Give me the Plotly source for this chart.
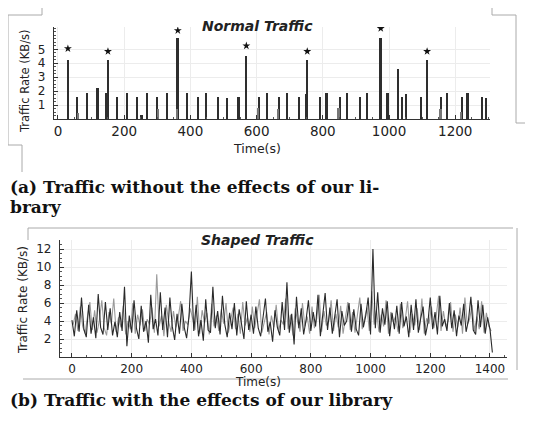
import plotly.graph_objects as go

# browser page has an 8px body margin: the figure is shifted by 8px, so size it to fit
OFF = 8
W, H = 533 - OFF, 421 - OFF

# ---------------- data: Normal Traffic (spikes) ----------------
normal_time = [30, 59, 89, 120, 147, 151, 178, 209, 239, 253, 270, 301, 331, 362, 390, 423,
               449, 485, 512, 546, 569, 607, 633, 669, 692, 730, 749, 753, 791, 812, 852,
               873, 914, 934, 975, 996, 1029, 1039, 1052, 1098, 1115, 1159, 1176, 1220,
               1238, 1282, 1293]
normal_rate = [4.2, 1.6, 1.9, 2.2, 1.9, 4.2, 1.6, 1.9, 1.6, 0.3, 1.9, 1.6, 1.9, 5.8, 1.9, 1.6,
               1.9, 1.6, 1.5, 1.6, 4.5, 1.6, 1.9, 1.6, 1.9, 1.6, 1.8, 4.2, 1.6, 1.9, 1.6,
               1.9, 1.6, 1.9, 5.8, 1.9, 3.6, 1.6, 1.8, 1.6, 4.2, 1.6, 1.9, 1.6,
               1.9, 1.6, 1.5]
inner_time = [62, 302, 360, 604, 666, 848, 1156, 1217]
inner_rate = [0.4, 0.7, 0.7, 0.8, 0.7, 0.8, 0.7, 0.5]
star_time = [30, 151, 362, 569, 753, 975, 1115]
star_rate = [5.05, 4.85, 6.35, 5.25, 4.85, 6.5, 4.85]

# ---------------- data: Shaped Traffic (noisy line) ----------------
shaped_dark = [
    4.1, 2.3, 5.2, 2.8, 6.6, 3.1, 2.2, 5.8, 2.6, 4.4,
    2.1, 7.0, 3.3, 2.5, 6.1, 3.0, 5.4, 2.4, 3.9, 2.2,
    5.0, 2.9, 7.8, 1.2, 4.6, 2.7, 6.3, 3.2, 2.0, 5.7,
    2.8, 4.0, 1.6, 6.9, 3.1, 4.2, 2.4, 7.2, 3.0, 5.5,
    2.2, 6.6, 3.4, 1.9, 4.8, 2.6, 5.9, 3.3, 2.1, 4.5,
    9.5, 2.9, 5.8, 2.3, 4.1, 1.8, 6.4, 3.0, 2.7, 7.8,
    3.2, 5.1, 2.5, 6.8, 3.6, 2.2, 4.9, 3.1, 6.0, 2.4,
    5.3, 3.5, 2.0, 6.2, 3.0, 4.7, 2.6, 5.6, 3.2, 2.3,
    4.4, 6.5, 2.8, 3.9, 1.7, 5.2, 3.3, 2.4, 6.1, 3.0,
    8.3, 2.7, 4.8, 1.4, 6.7, 3.2, 5.4, 2.5, 4.1, 6.3,
    2.9, 5.0, 3.4, 6.9, 2.3, 4.6, 7.1, 3.0, 5.5, 2.6,
    4.3, 6.4, 2.2, 5.1, 3.5, 4.0, 6.0, 2.8, 5.3, 3.1,
    2.4, 5.9, 3.3, 4.6, 6.6, 2.5, 12.0, 3.2, 7.2, 2.7,
    5.4, 3.6, 6.2, 2.3, 4.9, 3.1, 5.7, 2.6, 6.1, 3.4,
    4.5, 2.2, 5.8, 3.0, 6.4, 2.7, 4.3, 5.6, 2.4, 3.8,
    6.6, 3.1, 5.0, 2.5, 6.8, 3.4, 4.2, 2.9, 6.0, 3.2,
    5.2, 2.3, 4.6, 3.5, 5.9, 2.8, 4.1, 6.7, 3.0, 2.5,
    6.3, 3.3, 5.8, 2.6, 4.4, 3.1, 0.5,
]
shaped_light = [
    3.6, 4.8, 2.9, 5.6, 3.4, 2.6, 4.5, 6.1, 3.0, 5.2,
    2.7, 4.1, 6.3, 3.2, 2.4, 5.0, 3.7, 6.5, 2.8, 4.4,
    3.3, 5.7, 2.5, 4.0, 3.1, 6.0, 2.6, 4.7, 3.5, 5.3,
    2.9, 4.2, 3.6, 5.5, 2.7, 9.2, 3.4, 4.6, 2.3, 5.8,
    3.9, 2.8, 5.1, 3.3, 4.4, 6.2, 2.9, 4.0, 3.6, 5.4,
    4.3, 3.0, 6.7, 2.6, 5.2, 3.8, 4.9, 2.5, 5.9, 3.4,
    4.6, 2.9, 5.3, 3.7, 6.0, 2.7, 4.2, 5.5, 3.1, 4.8,
    2.6, 6.1, 3.5, 4.4, 2.8, 5.6, 3.2, 4.9, 6.4, 2.7,
    3.8, 5.0, 2.5, 4.6, 3.3, 5.8, 2.9, 4.1, 3.6, 6.5,
    3.1, 4.7, 2.4, 5.4, 3.9, 2.8, 6.0, 3.4, 4.5, 2.6,
    5.6, 3.2, 4.3, 6.9, 2.8, 5.1, 3.5, 4.0, 6.3, 2.9,
    4.8, 3.3, 5.7, 2.6, 4.4, 6.1, 3.0, 5.0, 2.7, 4.6,
    6.6, 3.1, 4.2, 5.5, 2.9, 7.3, 3.6, 5.2, 2.8, 4.7,
    3.4, 6.3, 2.6, 5.0, 3.9, 4.5, 2.8, 5.9, 3.2, 4.1,
    6.2, 2.7, 4.8, 3.5, 5.4, 3.0, 6.5, 2.6, 4.3, 3.7,
    5.6, 3.2, 4.6, 6.8, 2.9, 5.1, 3.4, 4.0, 6.1, 2.8,
    4.7, 3.3, 5.5, 2.6, 6.6, 3.6, 4.2, 5.8, 2.9, 4.5,
    3.1, 6.2, 2.7, 4.9, 3.4, 2.9,
]
shaped_dark_time = [8 * i for i in range(len(shaped_dark))]
shaped_light_time = [8 * i + 4 for i in range(len(shaped_light))]

top_yticks = [1, 2, 3, 4, 5]
bot_yticks = [2, 4, 6, 8, 10, 12]
top_xticks = [0, 200, 400, 600, 800, 1000, 1200]
bot_xticks = [0, 200, 400, 600, 800, 1000, 1200, 1400]


def px(x):
    return (x - OFF) / W


def py(y):
    return 1 - (y - OFF) / H


fig = go.Figure()

fig.add_trace(go.Bar(x=normal_time, y=normal_rate, width=5, marker=dict(color="#2e2e2e", line=dict(width=0)),
                     xaxis="x", yaxis="y", showlegend=False))
fig.add_trace(go.Bar(x=inner_time, y=inner_rate, width=5, marker=dict(color="#777", line=dict(width=0)),
                     xaxis="x", yaxis="y", showlegend=False))
fig.add_trace(go.Scatter(x=star_time, y=star_rate, mode="markers",
                         marker=dict(symbol="star", size=6, color="#111"),
                         xaxis="x", yaxis="y", showlegend=False))

fig.add_trace(go.Scatter(x=shaped_light_time, y=shaped_light, mode="lines",
                         line=dict(color="#9a9a9a", width=1.1), xaxis="x2", yaxis="y2", showlegend=False))
fig.add_trace(go.Scatter(x=shaped_dark_time, y=shaped_dark, mode="lines",
                         line=dict(color="#2a2a2a", width=1.1), xaxis="x2", yaxis="y2", showlegend=False))

axis_common = dict(showline=True, linecolor="#333", linewidth=1.2, ticks="inside", ticklen=4,
                   tickcolor="#333", showgrid=True, gridcolor="#ececec", zeroline=False)
top_font = dict(family="DejaVu Sans", size=13.5, color="#222")
topy_font = dict(family="DejaVu Sans", size=12, color="#222")
bot_font = dict(family="DejaVu Sans", size=12, color="#222")

fig.update_layout(
    width=W, height=H, margin=dict(l=0, r=0, t=0, b=0),
    paper_bgcolor="white", plot_bgcolor="white", barmode="overlay", bargap=0,
    xaxis=dict(domain=[px(54), px(490)], range=[-12, 1305], anchor="y", tickvals=top_xticks,
               tickfont=top_font,
               minor=dict(ticks="inside", ticklen=2, dtick=50, tickcolor="#555", showgrid=False),
               **axis_common),
    yaxis=dict(domain=[py(119), py(27)], range=[0, 6.6], anchor="x", tickvals=top_yticks,
               tickfont=topy_font, ticklabelstandoff=5,
               minor=dict(ticks="inside", ticklen=2, dtick=0.25, tickcolor="#555", showgrid=False),
               **axis_common),
    xaxis2=dict(domain=[px(60), px(507)], range=[-40, 1457], anchor="y2", tickvals=bot_xticks,
                tickfont=bot_font,
                minor=dict(ticks="inside", ticklen=2, dtick=50, tickcolor="#555", showgrid=False),
                **axis_common),
    yaxis2=dict(domain=[py(357), py(240)], range=[0, 13], anchor="x2", tickvals=bot_yticks,
                tickfont=bot_font, ticklabelstandoff=5,
                minor=dict(ticks="inside", ticklen=2, dtick=0.5, tickcolor="#555", showgrid=False),
                **axis_common),
)

ann_font = dict(family="DejaVu Sans", color="#222")
anns = [
    dict(text="<b><i>Normal Traffic</i></b>", x=px(257), y=py(26), font=dict(size=14, **ann_font)),
    dict(text="<b><i>Shaped Traffic</i></b>", x=px(257), y=py(240), font=dict(size=14, **ann_font)),
    dict(text="Time(s)", x=px(257), y=py(148), font=dict(size=12.5, **ann_font)),
    dict(text="Time(s)", x=px(258), y=py(382), font=dict(size=12, **ann_font)),
    dict(text="Traffic Rate (KB/s)", x=px(25), y=py(81), textangle=-90, font=dict(size=11.5, **ann_font)),
    dict(text="Traffic Rate (KB/s)", x=px(23), y=py(300), textangle=-90, font=dict(size=12, **ann_font)),
]
for a in anns:
    a.update(xref="paper", yref="paper", showarrow=False, xanchor="center", yanchor="middle")
    fig.add_annotation(**a)

cap_font = dict(family="DejaVu Serif", size=17, color="#111")
for text, x, y in [("<b>(a) Traffic without the effects of our li-</b>", 8, 187),
                   ("<b>brary</b>", 8, 207),
                   ("<b>(b) Traffic with the effects of our library</b>", 8, 400)]:
    fig.add_annotation(text=text, x=px(x), y=py(y), xref="paper", yref="paper", showarrow=False,
                       xanchor="left", yanchor="middle", font=cap_font)

# scanned frame fragments
frame = [
    (13, 15, 42, 15), (42, 8, 42, 15), (8, 15, 13, 15), (8, 15, 8, 145), (8, 145, 22, 145), (22, 145, 22, 172),
    (492, 8, 492, 15), (492, 15, 516, 15), (516, 15, 516, 123), (516, 123, 527, 123), (527, 123, 527, 145),
    (28, 228, 28, 240), (28, 228, 513, 228), (517, 228, 517, 370), (23, 379, 508, 379),
]
for x0, y0, x1, y1 in frame:
    fig.add_shape(type="line", xref="paper", yref="paper", x0=px(x0), y0=py(y0), x1=px(x1), y1=py(y1),
                  line=dict(color="#aaa", width=1))

fig.write_html("out.html")
